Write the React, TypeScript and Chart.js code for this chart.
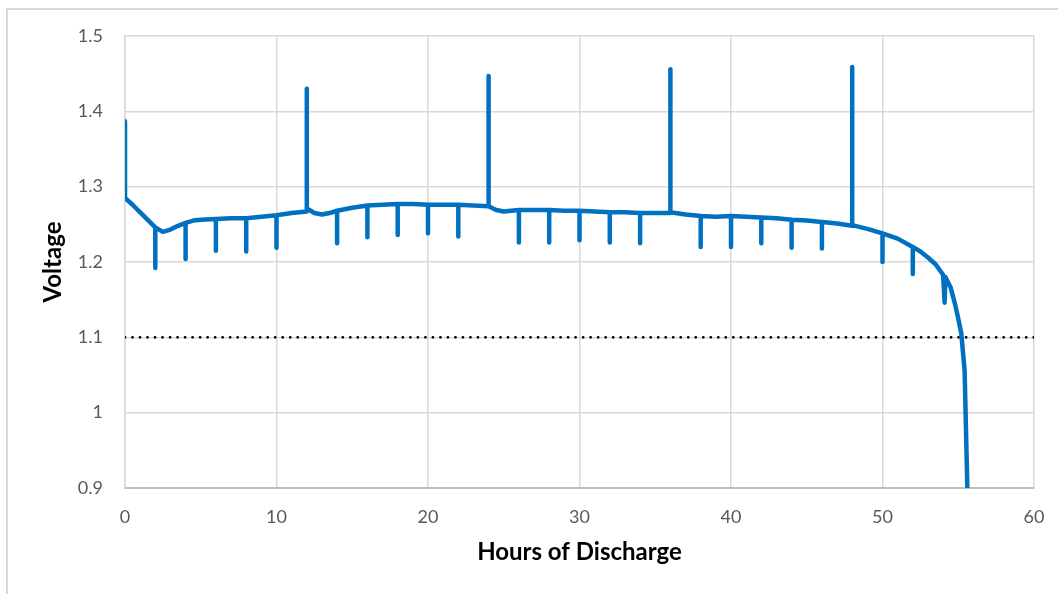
import React, { useEffect, useRef } from "react";
import { Chart, registerables } from "chart.js";

Chart.register(...registerables);

// Hours of discharge (x) and voltage (y) for the discharge trace
const hours: number[] = [
  0, 0, 0.5, 1, 1.5, 2, 2, 2, 2.5, 3, 3.5, 4, 4, 4, 4.5, 5, 6, 6, 6, 7, 8, 8, 8, 9, 10, 10, 10,
  11, 12, 12, 12, 12.5, 13, 13.5, 14, 14, 14, 15, 16, 16, 16, 17, 18, 18, 18, 19, 20, 20, 20,
  21, 22, 22, 22, 23, 24, 24, 24, 24.5, 25, 26, 26, 26, 27, 28, 28, 28, 29, 30, 30, 30,
  31, 32, 32, 32, 33, 34, 34, 34, 35, 36, 36, 36, 37, 38, 38, 38, 39, 40, 40, 40,
  41, 42, 42, 42, 43, 44, 44, 44, 45, 46, 46, 46, 47, 48, 48, 48, 49, 50, 50, 50,
  51, 52, 52, 52, 52.5, 53, 53.5, 54, 54.1, 54.15, 54.5, 54.8, 55, 55.2, 55.42, 55.6,
];
const voltage: number[] = [
  1.387, 1.285, 1.276, 1.266, 1.256, 1.246, 1.192, 1.246, 1.24, 1.243, 1.248, 1.252, 1.204, 1.252,
  1.255, 1.256, 1.257, 1.215, 1.257, 1.258, 1.258, 1.214, 1.258, 1.26, 1.262, 1.219, 1.262,
  1.265, 1.267, 1.43, 1.271, 1.265, 1.263, 1.265, 1.268, 1.225, 1.268, 1.272, 1.275, 1.233, 1.275,
  1.276, 1.277, 1.236, 1.277, 1.277, 1.276, 1.238, 1.276,
  1.276, 1.276, 1.234, 1.276, 1.275, 1.274, 1.447, 1.274, 1.269, 1.267, 1.269, 1.226, 1.269,
  1.269, 1.269, 1.226, 1.269, 1.268, 1.268, 1.229, 1.268,
  1.267, 1.266, 1.226, 1.266, 1.266, 1.265, 1.225, 1.265, 1.265, 1.265, 1.456, 1.266,
  1.263, 1.261, 1.22, 1.261, 1.26, 1.261, 1.22, 1.261,
  1.26, 1.259, 1.225, 1.259, 1.258, 1.256, 1.219, 1.256, 1.255, 1.253, 1.218, 1.253,
  1.251, 1.248, 1.459, 1.249, 1.244, 1.238, 1.2, 1.238,
  1.231, 1.22, 1.184, 1.22, 1.214, 1.206, 1.197, 1.183, 1.146, 1.18, 1.166, 1.143, 1.125, 1.105, 1.056, 0.9,
];

// Cut-off voltage reference line
const cutoffHours: number[] = [0, 60];
const cutoffVoltage: number[] = [1.1, 1.1];

const xTicks: number[] = [0, 10, 20, 30, 40, 50, 60];
const yTicks: number[] = [0.9, 1, 1.1, 1.2, 1.3, 1.4, 1.5];

const FONT = "Lato, 'Open Sans', sans-serif";

export default function App() {
  const ref = useRef<HTMLCanvasElement>(null);
  useEffect(() => {
    if (!ref.current) return;
    const chart = new Chart(ref.current, {
      type: "line",
      data: {
        datasets: [
          {
            label: "Voltage",
            data: hours.map((h, i) => ({ x: h, y: voltage[i] })),
            borderColor: "#0070C0",
            borderWidth: 4.5,
            pointRadius: 0,
            tension: 0,
            borderJoinStyle: "round",
            borderCapStyle: "round",
            fill: false,
          },
          {
            label: "Cutoff",
            data: cutoffHours.map((h, i) => ({ x: h, y: cutoffVoltage[i] })),
            borderColor: "#000000",
            borderWidth: 2.8,
            borderDash: [0.01, 7.5],
            borderCapStyle: "round",
            pointRadius: 0,
            fill: false,
          },
        ],
      },
      options: {
        responsive: false,
        animation: false,
        devicePixelRatio: 1,
        layout: { padding: { left: 0, right: 24, top: 36, bottom: 0 } },
        plugins: { legend: { display: false }, tooltip: { enabled: false } },
        scales: {
          x: {
            type: "linear",
            min: 0,
            max: 60,
            afterFit: (s: any) => {
              s.height = 106;
              s.paddingLeft = 0;
              s.paddingRight = 0;
            },
            afterBuildTicks: (s: any) => {
              s.ticks = xTicks.map((v) => ({ value: v }));
            },
            grid: { color: "#d9d9d9", lineWidth: 1.5, drawTicks: false },
            border: { display: true, color: "#bfbfbf", width: 2 },
            ticks: {
              padding: 18,
              color: "#595959",
              font: { family: FONT, size: 18 },
              maxRotation: 0,
            },
            title: {
              display: true,
              text: "Hours of Discharge",
              color: "#000000",
              font: { family: FONT, size: 24, weight: "bold" },
              padding: { top: 0, bottom: 27.6 },
            },
          },
          y: {
            type: "linear",
            min: 0.9,
            max: 1.5,
            afterFit: (s: any) => {
              s.width = 125;
              s.paddingTop = 0;
              s.paddingBottom = 0;
            },
            afterBuildTicks: (s: any) => {
              s.ticks = yTicks.map((v) => ({ value: v }));
            },
            grid: { color: "#d9d9d9", lineWidth: 1.5, drawTicks: false },
            border: { display: true, color: "#d9d9d9", width: 1.5 },
            ticks: {
              padding: 22,
              color: "#595959",
              font: { family: FONT, size: 18 },
              callback: (v: any) => String(Math.round(Number(v) * 10) / 10),
            },
            title: {
              display: true,
              text: "Voltage",
              color: "#000000",
              font: { family: FONT, size: 24, weight: "bold" },
              padding: { top: 38.6, bottom: 0 },
            },
          },
        },
      },
    });
    return () => chart.destroy();
  }, []);

  return (
    <div style={{ position: "fixed", left: 0, top: 0, width: 1058, height: 594, background: "#fff", overflow: "hidden" }}>
      <div
        style={{
          position: "absolute",
          left: 6,
          top: 8,
          right: -10,
          bottom: -10,
          borderLeft: "2px solid #d9d9d9",
          borderTop: "2px solid #d9d9d9",
        }}
      />
      <canvas ref={ref} width={1058} height={594} style={{ position: "absolute", left: 0, top: 0 }} />
    </div>
  );
}
